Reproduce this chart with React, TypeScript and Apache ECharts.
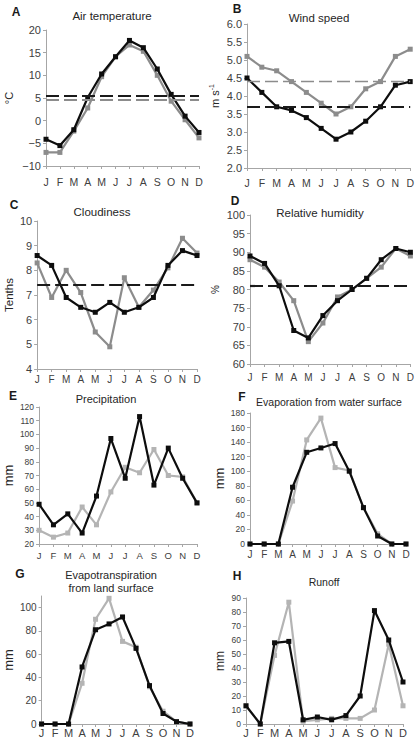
import React, { useEffect, useRef } from 'react';
import * as echarts from 'echarts';

// Month initials used on every x axis
const months = ['J', 'F', 'M', 'A', 'M', 'J', 'J', 'A', 'S', 'O', 'N', 'D'];

// A: air temperature, °C
const airTempBlack = [-4.1, -5.5, -2.0, 5.1, 10.3, 14.1, 17.7, 16.1, 11.4, 5.8, 1.0, -2.6];
const airTempGray = [-7.0, -7.0, -2.3, 2.8, 9.7, 14.1, 16.7, 15.3, 10.0, 4.3, 0.2, -3.8];
const airTempMeanBlack = 5.5;
const airTempMeanGray = 4.6;

// B: wind speed, m/s
const windBlack = [4.5, 4.1, 3.7, 3.6, 3.4, 3.1, 2.8, 3.0, 3.3, 3.7, 4.3, 4.4];
const windGray = [5.1, 4.8, 4.7, 4.4, 4.1, 3.8, 3.5, 3.7, 4.2, 4.4, 5.1, 5.3];
const windMeanBlack = 3.7;
const windMeanGray = 4.4;

// C: cloudiness, tenths
const cloudBlack = [8.6, 8.2, 6.9, 6.5, 6.3, 6.7, 6.3, 6.5, 6.9, 8.2, 8.8, 8.6];
const cloudGray = [8.3, 6.9, 8.0, 7.1, 5.5, 4.9, 7.7, 6.5, 7.2, 8.1, 9.3, 8.7];
const cloudMean = 7.4;

// D: relative humidity, %
const humidityBlack = [89, 87, 81, 69, 67, 73, 77, 80, 83, 88, 91, 90];
const humidityGray = [88, 86, 82, 77, 66, 71, 78, 80, 83, 86, 91, 89];
const humidityMean = 81;

// E: precipitation, mm
const precipBlack = [49, 34, 42, 28, 55, 97, 68, 113, 63, 90, 68, 50];
const precipGray = [30, 25, 28, 47, 34, 58, 76, 72, 89, 70, 69, 50];

// F: evaporation from water surface, mm
const evapBlack = [0, 0, 0, 78, 126, 132, 138, 100, 50, 11, 0, 0];
const evapGray = [0, 0, 0, 59, 143, 173, 105, 101, 50, 14, 0, 0];

// G: evapotranspiration from land surface, mm
const etBlack = [0, 0, 0, 49, 81, 86, 92, 65, 33, 9, 2, 0];
const etGray = [0, 0, 0, 35, 90, 108, 71, 66, 32, 11, 2, 0];

// H: runoff, mm
const runoffBlack = [13, 0, 58, 59, 3, 5, 3, 6, 20, 81, 60, 30];
const runoffGray = [13, 0, 49, 87, 2, 3, 4, 4, 4, 10, 57, 13];

const BLACK = '#0d0d0d';
const GRAY_DARK = '#8c8c8c';
const GRAY_LIGHT = '#b4b4b4';
const AXIS = '#a6a6a6';
const TEXT = '#404040';
const FONT = '"Liberation Sans", Arial, sans-serif';

type Panel = {
  letter: string;
  letterPos: [number, number];
  title: string[];
  titlePos: [number, number];
  titleSize: number;
  grid: { left: number; top: number; width: number; height: number };
  yMin: number;
  yMax: number;
  yInterval: number;
  decimals: number;
  hideMaxLabel?: boolean;
  yName: string;
  yNameGap: number;
  yNameSize: number;
  tickSize: number;
  monthSize: number;
  monthMargin: number;
  black: number[];
  gray: number[];
  grayColor: string;
  meanBlack?: number;
  meanGray?: number;
  meanGrayWidth?: number;
};

const panels: Panel[] = [
  {
    letter: 'A', letterPos: [16, 12], title: ['Air temperature'], titlePos: [112, 16], titleSize: 11.5,
    grid: { left: 31, top: 30, width: 168, height: 136 },
    yMin: -10, yMax: 20, yInterval: 5, decimals: 0,
    yName: '°C', yNameGap: 30, yNameSize: 11, tickSize: 11, monthSize: 10.5, monthMargin: 10,
    black: airTempBlack, gray: airTempGray, grayColor: GRAY_DARK,
    meanBlack: airTempMeanBlack, meanGray: airTempMeanGray, meanGrayWidth: 2.2,
  },
  {
    letter: 'B', letterPos: [237, 9], title: ['Wind speed'], titlePos: [319, 18], titleSize: 11.5,
    grid: { left: 247, top: 24, width: 168, height: 144 },
    yMin: 2, yMax: 6, yInterval: 0.5, decimals: 1,
    yName: 'm s{sup|-1}', yNameGap: 23, yNameSize: 11, tickSize: 11, monthSize: 10.5, monthMargin: 9,
    black: windBlack, gray: windGray, grayColor: GRAY_DARK,
    meanBlack: windMeanBlack, meanGray: windMeanGray, meanGrayWidth: 1.3,
  },
  {
    letter: 'C', letterPos: [14, 205], title: ['Cloudiness'], titlePos: [102, 212], titleSize: 11.5,
    grid: { left: 31, top: 221, width: 166, height: 148 },
    yMin: 4, yMax: 10, yInterval: 1, decimals: 0,
    yName: 'Tenths', yNameGap: 18, yNameSize: 11.5, tickSize: 11, monthSize: 10, monthMargin: 5,
    black: cloudBlack, gray: cloudGray, grayColor: GRAY_DARK,
    meanBlack: cloudMean,
  },
  {
    letter: 'D', letterPos: [235, 201], title: ['Relative humidity'], titlePos: [320, 213], titleSize: 11.5,
    grid: { left: 250, top: 215, width: 165, height: 149 },
    yMin: 60, yMax: 100, yInterval: 5, decimals: 0,
    yName: '%', yNameGap: 24, yNameSize: 10, tickSize: 11, monthSize: 10, monthMargin: 8,
    black: humidityBlack, gray: humidityGray, grayColor: GRAY_DARK,
    meanBlack: humidityMean,
  },
  {
    letter: 'E', letterPos: [13, 396], title: ['Precipitation'], titlePos: [106, 399], titleSize: 11,
    grid: { left: 31, top: 407, width: 166, height: 137 },
    yMin: 20, yMax: 120, yInterval: 10, decimals: 0,
    yName: 'mm', yNameGap: 19, yNameSize: 13, tickSize: 8.5, monthSize: 9.5, monthMargin: 6,
    black: precipBlack, gray: precipGray, grayColor: GRAY_LIGHT,
  },
  {
    letter: 'F', letterPos: [242, 397], title: ['Evaporation from water surface'], titlePos: [329, 402], titleSize: 10.5,
    grid: { left: 250, top: 413, width: 156, height: 131 },
    yMin: 0, yMax: 180, yInterval: 20, decimals: 0,
    yName: 'mm', yNameGap: 18, yNameSize: 13, tickSize: 8.5, monthSize: 10, monthMargin: 5,
    black: evapBlack, gray: evapGray, grayColor: GRAY_LIGHT,
  },
  {
    letter: 'G', letterPos: [20, 574], title: ['Evapotranspiration', 'from land surface'], titlePos: [111, 581], titleSize: 11,
    grid: { left: 31, top: 596, width: 159, height: 128 },
    yMin: 0, yMax: 110, yInterval: 20, decimals: 0, hideMaxLabel: true,
    yName: 'mm', yNameGap: 19, yNameSize: 13, tickSize: 10, monthSize: 11, monthMargin: 3,
    black: etBlack, gray: etGray, grayColor: GRAY_LIGHT,
  },
  {
    letter: 'H', letterPos: [237, 576], title: ['Runoff'], titlePos: [324, 582], titleSize: 10.5,
    grid: { left: 246, top: 598, width: 157, height: 126 },
    yMin: 0, yMax: 90, yInterval: 10, decimals: 0,
    yName: 'mm', yNameGap: 18, yNameSize: 12, tickSize: 8.5, monthSize: 11, monthMargin: 3,
    black: runoffBlack, gray: runoffGray, grayColor: GRAY_LIGHT,
  },
];

function formatTick(v: number, decimals: number): string {
  const s = Math.abs(v).toFixed(decimals);
  return v < 0 ? '\u2212' + s : s;
}

function meanLine(value: number, color: string, width: number) {
  return {
    silent: true,
    symbol: ['none', 'none'],
    label: { show: false },
    emphasis: { disabled: true },
    lineStyle: { type: [13, 5], color, width },
    data: [{ yAxis: value }],
  };
}

function buildOption() {
  const grid: any[] = [];
  const xAxis: any[] = [];
  const yAxis: any[] = [];
  const series: any[] = [];
  const graphic: any[] = [];

  panels.forEach((p, i) => {
    grid.push({ ...p.grid, containLabel: false });

    xAxis.push({
      gridIndex: i,
      type: 'value',
      min: 1,
      max: 12,
      interval: 1,
      axisLine: { show: true, onZero: false, lineStyle: { color: AXIS, width: 1 } },
      axisTick: { show: true, length: 3, lineStyle: { color: AXIS } },
      splitLine: { show: false },
      axisLabel: {
        formatter: (v: number) => months[Math.round(v) - 1] ?? '',
        fontSize: p.monthSize,
        fontFamily: FONT,
        color: TEXT,
        margin: p.monthMargin,
        showMinLabel: true,
        showMaxLabel: true,
      },
    });

    yAxis.push({
      gridIndex: i,
      type: 'value',
      min: p.yMin,
      max: p.yMax,
      interval: p.yInterval,
      axisLine: { show: true, onZero: false, lineStyle: { color: AXIS, width: 1 } },
      axisTick: { show: true, length: 3, lineStyle: { color: AXIS } },
      splitLine: { show: false },
      axisLabel: {
        formatter: (v: number) => formatTick(v, p.decimals),
        fontSize: p.tickSize,
        fontFamily: FONT,
        color: TEXT,
        margin: 5,
        showMaxLabel: !p.hideMaxLabel,
      },
      name: p.yName,
      nameLocation: 'middle',
      nameRotate: 90,
      nameGap: p.yNameGap,
      nameTextStyle: {
        fontSize: p.yNameSize,
        fontFamily: FONT,
        color: '#262626',
        lineHeight: 15,
        rich: {
          sup: { fontSize: 7, fontFamily: FONT, color: '#262626', verticalAlign: 'top', lineHeight: 15 },
        },
      },
    });

    const grayS: any = {
      type: 'line',
      xAxisIndex: i,
      yAxisIndex: i,
      data: p.gray.map((v, k) => [k + 1, v]),
      symbol: 'rect',
      symbolSize: 5,
      showSymbol: true,
      lineStyle: { color: p.grayColor, width: 2.2 },
      itemStyle: { color: p.grayColor },
      emphasis: { disabled: true },
      z: 2,
    };
    if (p.meanGray !== undefined) {
      grayS.markLine = meanLine(p.meanGray, p.grayColor, p.meanGrayWidth ?? 2);
    }
    series.push(grayS);

    const blackS: any = {
      type: 'line',
      xAxisIndex: i,
      yAxisIndex: i,
      data: p.black.map((v, k) => [k + 1, v]),
      symbol: 'rect',
      symbolSize: 5,
      showSymbol: true,
      lineStyle: { color: BLACK, width: 2.2 },
      itemStyle: { color: BLACK },
      emphasis: { disabled: true },
      z: 3,
    };
    if (p.meanBlack !== undefined) {
      blackS.markLine = meanLine(p.meanBlack, '#1a1a1a', 2.2);
    }
    series.push(blackS);

    graphic.push({
      type: 'text',
      x: p.letterPos[0],
      y: p.letterPos[1],
      style: {
        text: p.letter,
        font: `bold 12px ${FONT}`,
        fill: '#1a1a1a',
        align: 'center',
        verticalAlign: 'middle',
      },
    });
    graphic.push({
      type: 'text',
      x: p.titlePos[0],
      y: p.titlePos[1],
      style: {
        text: p.title.join('\n'),
        font: `${p.titleSize}px ${FONT}`,
        lineHeight: 13,
        fill: '#262626',
        align: 'center',
        verticalAlign: 'middle',
      },
    });
  });

  return {
    animation: false,
    backgroundColor: '#ffffff',
    grid,
    xAxis,
    yAxis,
    series,
    graphic,
  };
}

export default function App() {
  const ref = useRef<HTMLDivElement>(null);

  useEffect(() => {
    if (!ref.current) return;
    const chart = echarts.init(ref.current, undefined, { renderer: 'svg' });
    chart.setOption(buildOption() as any);
    return () => chart.dispose();
  }, []);

  return (
    <div
      ref={ref}
      style={{ position: 'fixed', left: 0, top: 0, width: 417, height: 747, background: '#fff' }}
    />
  );
}
